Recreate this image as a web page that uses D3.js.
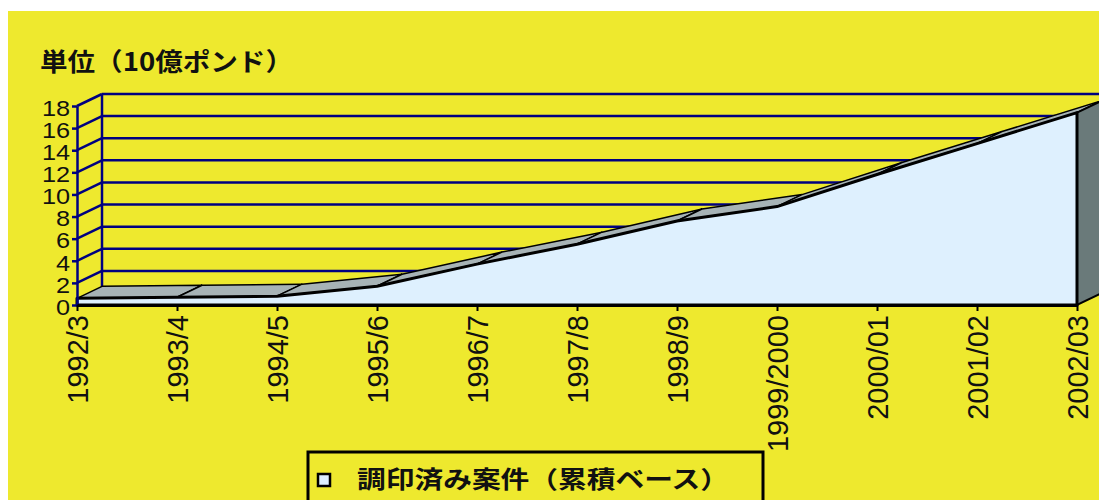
<!DOCTYPE html>
<html>
<head>
<meta charset="UTF-8">
<script src="https://d3js.org/d3.v7.min.js"></script>
<style>
  body { margin: 0; background: #fff; }
  svg { display: block; }
  .jp { font-family: 'Noto Sans CJK JP', sans-serif; font-weight: bold; fill: #111; }
  .tick text { font-family: 'Liberation Sans', Arial, sans-serif; fill: #111; }
</style>
</head>
<body>
<svg id="chart" width="1099" height="500"></svg>
<script>
  const categories = ["1992/3","1993/4","1994/5","1995/6","1996/7","1997/8","1998/9","1999/2000","2000/01","2001/02","2002/03"];
  const cumulativeValues = [0.6,0.7,0.8,1.7,3.7,5.5,7.6,8.9,11.8,14.6,17.4];
  const yTicks = [0,2,4,6,8,10,12,14,16,18];
  const titleText = "単位（10億ポンド）";
  const legendLabel = "調印済み案件（累積ベース）";

  const width = 1099, height = 500;
  // 3d depth offset of the back wall
  const depth = {dx: 25, dy: -12};

  const svg = d3.select('#chart');

  svg.append('rect')
    .attr('x', 8).attr('y', 11)
    .attr('width', width - 8).attr('height', height - 11)
    .attr('fill', '#eee92e');

  const x = d3.scalePoint().domain(categories).range([77, 1077]);
  const y = d3.scaleLinear().domain([0, 18]).range([305, 106]);
  const x0 = x.range()[0], x1 = x.range()[1];

  svg.append('text')
    .attr('class', 'jp')
    .attr('x', 40).attr('y', 71)
    .attr('font-size', 25)
    .attr('textLength', 253)
    .attr('lengthAdjust', 'spacingAndGlyphs')
    .text(titleText);

  // back wall grid + left wall
  const walls = svg.append('g').attr('stroke', '#000080').attr('fill', 'none');
  walls.selectAll('line.back')
    .data(yTicks)
    .join('line')
    .attr('class', 'back')
    .attr('x1', x0 + depth.dx).attr('x2', x1 + depth.dx)
    .attr('y1', d => y(d) + depth.dy).attr('y2', d => y(d) + depth.dy)
    .attr('stroke-width', 2.5);
  walls.selectAll('line.side')
    .data(yTicks)
    .join('line')
    .attr('class', 'side')
    .attr('x1', x0).attr('x2', x0 + depth.dx)
    .attr('y1', d => y(d)).attr('y2', d => y(d) + depth.dy)
    .attr('stroke-width', 2.5);
  walls.append('line')
    .attr('x1', x0 + depth.dx).attr('x2', x0 + depth.dx)
    .attr('y1', y(0) + depth.dy).attr('y2', y(18) + depth.dy)
    .attr('stroke-width', 2.5);

  // area: top strips, right end face, front face
  const pts = categories.map((c, i) => [x(c), y(cumulativeValues[i])]);
  const area = d3.area().x(d => d[0]).y0(y(0)).y1(d => d[1]);
  const g = svg.append('g');

  g.selectAll('path.top')
    .data(d3.pairs(pts))
    .join('path')
    .attr('class', 'top')
    .attr('d', ([a, b]) => `M${a[0]},${a[1]}L${b[0]},${b[1]}L${b[0] + depth.dx},${b[1] + depth.dy}L${a[0] + depth.dx},${a[1] + depth.dy}Z`)
    .attr('fill', '#a7b3b6')
    .attr('stroke', '#000')
    .attr('stroke-width', 1.5)
    .attr('stroke-linejoin', 'round');

  const last = pts[pts.length - 1];
  g.append('path')
    .attr('d', `M${last[0]},${last[1]}L${last[0] + depth.dx},${last[1] + depth.dy}L${last[0] + depth.dx},${y(0) + depth.dy}L${last[0]},${y(0)}Z`)
    .attr('fill', '#6a7a7a')
    .attr('stroke', '#000')
    .attr('stroke-width', 2);

  g.append('path')
    .datum(pts)
    .attr('d', area)
    .attr('fill', '#def0fe')
    .attr('stroke', '#000')
    .attr('stroke-width', 3)
    .attr('stroke-linejoin', 'round');

  // y axis on the front plane
  const yAxis = svg.append('g')
    .attr('transform', `translate(${x0},0)`)
    .call(d3.axisLeft(y).tickValues(yTicks).tickSize(5).tickPadding(1).tickSizeOuter(0));
  yAxis.select('.domain').attr('stroke', '#000080').attr('stroke-width', 2.5);
  yAxis.selectAll('.tick line').attr('stroke', '#000080').attr('stroke-width', 2.5);
  yAxis.selectAll('.tick text')
    .attr('font-size', 22)
    .attr('dy', '0.42em')
    .attr('transform', 'scale(1.15,1)');

  // x axis
  const xAxis = svg.append('g')
    .attr('transform', `translate(0,${y(0)})`)
    .call(d3.axisBottom(x).tickSize(6).tickSizeOuter(0));
  xAxis.select('.domain').attr('stroke', '#000').attr('stroke-width', 3);
  xAxis.selectAll('.tick line').attr('stroke', '#000').attr('stroke-width', 2);
  xAxis.selectAll('.tick text')
    .attr('font-size', 29)
    .attr('text-anchor', 'end')
    .attr('x', 0).attr('y', 0).attr('dy', 0)
    .attr('transform', 'translate(10,10) rotate(-90)');

  // legend
  const legend = svg.append('g');
  legend.append('rect')
    .attr('x', 308).attr('y', 452)
    .attr('width', 455).attr('height', 70)
    .attr('fill', 'none')
    .attr('stroke', '#000')
    .attr('stroke-width', 3);
  legend.append('rect')
    .attr('x', 318).attr('y', 474)
    .attr('width', 12).attr('height', 12)
    .attr('fill', '#def0fe')
    .attr('stroke', '#000')
    .attr('stroke-width', 2.5);
  legend.append('text')
    .attr('class', 'jp')
    .attr('x', 357).attr('y', 488)
    .attr('font-size', 24)
    .attr('textLength', 372)
    .attr('lengthAdjust', 'spacingAndGlyphs')
    .text(legendLabel);
</script>
</body>
</html>
